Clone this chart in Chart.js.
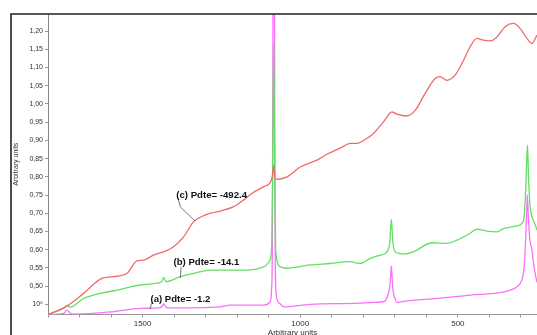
<!DOCTYPE html>
<html>
<head>
<meta charset="utf-8">
<script src="https://cdn.jsdelivr.net/npm/chart.js@4"></script>
<style>
  html, body { margin: 0; padding: 0; background: #fff; }
  #wrap { width: 537px; height: 335px; position: relative; }
</style>
</head>
<body>
<div id="wrap"><canvas id="spectra"></canvas></div>
<script>
// wavenumber axis values and intensities
const redX = [1800, 1740, 1687, 1629, 1581, 1549, 1518, 1497, 1465, 1428, 1402, 1370, 1338, 1317, 1285, 1253, 1211, 1180, 1153, 1116, 1092, 1087, 1084, 1081, 1075, 1042, 1000, 947, 915, 873, 841, 820, 789, 768, 736, 709, 693, 662, 635, 604, 572, 556, 535, 509, 482, 461, 440, 419, 398, 376, 350, 324, 302, 281, 265, 249];
const redY = [0.422, 0.445, 0.480, 0.521, 0.527, 0.535, 0.569, 0.571, 0.585, 0.596, 0.608, 0.635, 0.677, 0.689, 0.700, 0.706, 0.718, 0.736, 0.755, 0.773, 0.790, 0.810, 0.832, 0.800, 0.793, 0.800, 0.827, 0.846, 0.862, 0.879, 0.892, 0.892, 0.905, 0.919, 0.951, 0.978, 0.972, 0.967, 0.983, 1.029, 1.070, 1.075, 1.065, 1.079, 1.120, 1.157, 1.180, 1.175, 1.173, 1.184, 1.212, 1.221, 1.207, 1.180, 1.166, 1.189];

const greenX = [1800, 1750, 1740, 1730, 1687, 1634, 1581, 1539, 1507, 1465, 1440, 1433, 1426, 1380, 1338, 1285, 1232, 1169, 1116, 1096, 1090, 1086.5, 1084, 1081.5, 1078, 1063, 1042, 968, 905, 841, 810, 778, 746, 725, 716, 711, 706, 699, 672, 641, 582, 535, 503, 461, 440, 408, 376, 355, 313, 297, 290, 285, 281, 279, 276, 271, 265, 260, 249];
const greenY = [0.422, 0.439, 0.447, 0.442, 0.466, 0.480, 0.489, 0.498, 0.503, 0.507, 0.512, 0.523, 0.512, 0.526, 0.535, 0.544, 0.544, 0.544, 0.553, 0.571, 0.620, 0.900, 1.162, 0.900, 0.600, 0.553, 0.549, 0.558, 0.562, 0.567, 0.562, 0.576, 0.585, 0.594, 0.620, 0.683, 0.620, 0.594, 0.588, 0.594, 0.619, 0.617, 0.626, 0.645, 0.656, 0.651, 0.649, 0.658, 0.665, 0.672, 0.690, 0.760, 0.860, 0.887, 0.800, 0.720, 0.690, 0.681, 0.654];

const pinkX = [1800, 1750, 1740, 1730, 1719, 1602, 1507, 1444, 1438, 1433, 1428, 1423, 1253, 1222, 1116, 1095, 1091, 1088.5, 1087, 1086, 1082, 1081, 1079.5, 1077, 1073, 1063, 1053, 968, 810, 778, 736, 722, 716, 713, 711, 709, 706, 700, 693, 672, 567, 461, 355, 313, 297, 290, 285, 281, 279.5, 277, 272, 265, 258, 249];
const pinkY = [0.422, 0.425, 0.434, 0.426, 0.423, 0.429, 0.439, 0.441, 0.445, 0.451, 0.445, 0.440, 0.443, 0.448, 0.448, 0.457, 0.490, 0.600, 1.000, 1.450, 1.450, 1.000, 0.600, 0.490, 0.462, 0.451, 0.443, 0.450, 0.453, 0.455, 0.457, 0.475, 0.500, 0.530, 0.555, 0.530, 0.490, 0.468, 0.455, 0.458, 0.466, 0.475, 0.484, 0.498, 0.517, 0.550, 0.630, 0.720, 0.750, 0.700, 0.630, 0.599, 0.550, 0.510];

const seriesNames = ["(c) Pdte= -492.4", "(b) Pdte= -14.1", "(a) Pdte= -1.2"];

// label anchors (text left/middle, leader polyline) in data units
const notes = [
  { text: seriesNames[0], at: [1393, 0.750], path: [[1387, 0.739], [1380, 0.717], [1333, 0.678]] },
  { text: seriesNames[1], at: [1402, 0.566], path: [[1378, 0.553], [1380, 0.522]] },
  { text: seriesNames[2], at: [1475, 0.464], path: [[1472, 0.453], [1476, 0.437]] }
];

function pts(xs, ys) {
  return xs.map((x, i) => ({ x: x, y: ys[i] }));
}

const FONT = "'Liberation Sans', Arial, sans-serif";

const notesPlugin = {
  id: "notes",
  afterDatasetsDraw(chart) {
    const c = chart.ctx;
    const xs = chart.scales.x, ys = chart.scales.y;
    c.save();
    c.strokeStyle = "#555";
    c.lineWidth = 0.8;
    c.fillStyle = "#111";
    c.font = "bold 9.6px " + FONT;
    c.textBaseline = "middle";
    c.textAlign = "left";
    notes.forEach(n => {
      c.beginPath();
      n.path.forEach((p, i) => {
        const px = xs.getPixelForValue(p[0]), py = ys.getPixelForValue(p[1]);
        if (i === 0) c.moveTo(px, py); else c.lineTo(px, py);
      });
      c.stroke();
      c.fillText(n.text, xs.getPixelForValue(n.at[0]), ys.getPixelForValue(n.at[1]));
    });
    c.restore();
  },
  afterDraw(chart) {
    // outer frame, top and left edges only
    const c = chart.ctx;
    c.save();
    c.strokeStyle = "#222";
    c.lineWidth = 1.6;
    c.beginPath();
    c.moveTo(11, chart.height);
    c.lineTo(11, 14);
    c.lineTo(chart.width, 14);
    c.stroke();
    c.restore();
  }
};

new Chart(document.getElementById("spectra"), {
  type: "line",
  data: {
    datasets: [
      { label: seriesNames[0], data: pts(redX, redY), borderColor: "#f26a6a" },
      { label: seriesNames[1], data: pts(greenX, greenY), borderColor: "#62e062" },
      { label: seriesNames[2], data: pts(pinkX, pinkY), borderColor: "#fa70fa" }
    ]
  },
  options: {
    responsive: true,
    maintainAspectRatio: false,
    animation: false,
    layout: { padding: { top: 14, right: 0, bottom: 0, left: 0 } },
    elements: {
      point: { radius: 0 },
      line: { borderWidth: 1.3, cubicInterpolationMode: "monotone" }
    },
    plugins: { legend: { display: false }, tooltip: { enabled: false } },
    scales: {
      x: {
        type: "linear",
        reverse: true,
        min: 249,
        max: 1800,
        afterFit(s) { s.height = 20.5; },
        border: { color: "#999" },
        grid: { drawOnChartArea: false, tickLength: 3, color: "#999" },
        ticks: {
          stepSize: 100,
          includeBounds: false,
          autoSkip: false,
          maxRotation: 0,
          padding: 1,
          color: "#333",
          font: { family: FONT, size: 8 },
          callback: v => (v % 500 === 0 ? String(v) : "")
        },
        title: {
          display: true,
          text: "Arbitrary units",
          color: "#333",
          font: { family: FONT, size: 8, lineHeight: 0.5 },
          padding: 0
        }
      },
      y: {
        min: 0.422,
        max: 1.247,
        afterFit(s) { s.width = 48; },
        border: { color: "#888", dash: [1, 1] },
        grid: { drawOnChartArea: false, tickLength: 3, color: "#999" },
        ticks: {
          stepSize: 0.05,
          includeBounds: false,
          autoSkip: false,
          padding: 2,
          color: "#333",
          font: { family: FONT, size: 7 },
          callback: v => (Math.abs(v - 0.45) < 1e-6 ? "10\u2076" : v.toFixed(2).replace(".", ","))
        },
        title: {
          display: true,
          text: "Arbitrary units",
          color: "#333",
          font: { family: FONT, size: 7 },
          padding: { top: 12, bottom: 0 }
        }
      }
    }
  },
  plugins: [notesPlugin]
});
</script>
</body>
</html>
